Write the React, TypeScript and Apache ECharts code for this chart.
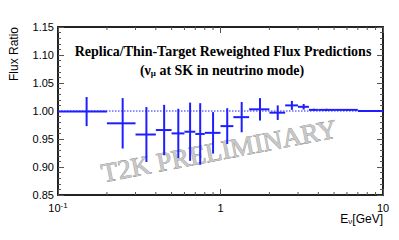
import React, { useEffect, useRef } from "react";
import * as echarts from "echarts";

// Bins (GeV) and values
const binLow = [0.1, 0.2, 0.3, 0.4, 0.5, 0.6, 0.7, 0.8, 1.0, 1.2, 1.5, 2.0, 2.5, 3.0, 3.5, 4.0, 5.0, 7.0];
const binHigh = [0.2, 0.3, 0.4, 0.5, 0.6, 0.7, 0.8, 1.0, 1.2, 1.5, 2.0, 2.5, 3.0, 3.5, 4.0, 5.0, 7.0, 10.0];
const ratio = [0.999, 0.978, 0.958, 0.966, 0.960, 0.963, 0.959, 0.961, 0.973, 0.989, 1.003, 0.997, 1.010, 1.0075, 1.002, 1.002, 1.002, 1.000];
const ratioErr = [0.026, 0.045, 0.049, 0.045, 0.044, 0.052, 0.055, 0.037, 0.032, 0.027, 0.020, 0.013, 0.008, 0.005, 0.002, 0.002, 0.001, 0.0];

const xMinorTicks = [0.2, 0.3, 0.4, 0.5, 0.6, 0.7, 0.8, 0.9, 2, 3, 4, 5, 6, 7, 8, 9];
const xMajorValues = [0.1, 1, 10];
const xMajorLabels = ["{n|10}{s|-1}", "{n|1}", "{n|10}"];
const yMin = 0.85;
const yMax = 1.15;
const yStep = 0.05;
const referenceLine = 1.0;

const titleLine1 = "Replica/Thin-Target Reweighted Flux Predictions";
const yTitle = "Flux Ratio";
const watermark = "T2K PRELIMINARY";

const BLUE = "#1e1eff";
const SANS = "Liberation Sans, Arial, sans-serif";
const SERIF = "Liberation Serif, Times New Roman, serif";

export default function App() {
  const ref = useRef<HTMLDivElement>(null);
  useEffect(() => {
    if (!ref.current) return;
    const chart = echarts.init(ref.current, null, { renderer: "svg" });
    const barData = binLow.map((lo, i) => [lo, binHigh[i], ratio[i], ratioErr[i]]);
    const axisLine = { show: true, onZero: false, lineStyle: { color: "#222", width: 2 } };
    const tickStyle = { color: "#555", width: 1 };
    chart.setOption({
      animation: false,
      grid: { left: 58, right: 16, top: 27, bottom: 45 },
      xAxis: [
        {
          type: "log",
          logBase: 10,
          min: 0.1,
          max: 10,
          axisLine,
          splitLine: { show: false },
          axisTick: { show: true, inside: true, length: 6, lineStyle: tickStyle },
          axisLabel: {
            margin: 6,
            color: "#000",
            fontFamily: SANS,
            formatter: (v: number) => {
              const idx = xMajorValues.findIndex((m) => Math.abs(m - v) < 1e-9);
              return idx >= 0 ? xMajorLabels[idx] : "";
            },
            rich: {
              n: { fontSize: 11, fontFamily: SANS, color: "#000", lineHeight: 14 },
              s: { fontSize: 8, fontFamily: SANS, color: "#000", verticalAlign: "top", lineHeight: 14, padding: [0, 0, 6, 0] },
            },
          },
        },
        {
          type: "log",
          logBase: 10,
          min: 0.1,
          max: 10,
          position: "top",
          axisLine,
          splitLine: { show: false },
          axisTick: { show: true, inside: true, length: 6, lineStyle: tickStyle },
          axisLabel: { show: false },
        },
      ],
      yAxis: [
        {
          type: "value",
          min: yMin,
          max: yMax,
          interval: yStep,
          axisLine,
          splitLine: { show: false },
          axisTick: { show: true, inside: true, length: 6, lineStyle: tickStyle },
          minorTick: { show: true, splitNumber: 5, length: 3, lineStyle: tickStyle },
          axisLabel: {
            margin: 4,
            fontSize: 11,
            color: "#000",
            fontFamily: SANS,
            formatter: (v: number) => v.toFixed(2),
          },
        },
        {
          type: "value",
          min: yMin,
          max: yMax,
          interval: yStep,
          position: "right",
          axisLine,
          splitLine: { show: false },
          axisTick: { show: true, inside: true, length: 6, lineStyle: tickStyle },
          minorTick: { show: true, splitNumber: 5, length: 3, lineStyle: tickStyle },
          axisLabel: { show: false },
        },
      ],
      series: [
        {
          type: "line",
          data: [
            [0.1, referenceLine],
            [10, referenceLine],
          ],
          symbol: "none",
          lineStyle: { color: BLUE, width: 1, type: [1.5, 1.5] },
          z: 1,
          silent: true,
        },
        {
          type: "custom",
          data: xMinorTicks.map((v) => [v, yMin]),
          encode: { x: 0, y: 1 },
          renderItem: (params: any, api: any) => {
            const v = api.value(0);
            const b = api.coord([v, yMin]);
            const t = api.coord([v, yMax]);
            const st = { stroke: "#555", lineWidth: 1 };
            return {
              type: "group",
              children: [
                { type: "line", shape: { x1: b[0], y1: b[1], x2: b[0], y2: b[1] - 3 }, style: st },
                { type: "line", shape: { x1: t[0], y1: t[1], x2: t[0], y2: t[1] + 3 }, style: st },
              ],
            };
          },
          silent: true,
          z: 1,
        },
        {
          type: "custom",
          data: barData,
          encode: { x: [0, 1], y: 2 },
          renderItem: (params: any, api: any) => {
            const lo = api.value(0);
            const hi = api.value(1);
            const v = api.value(2);
            const e = api.value(3);
            const c = (lo + hi) / 2;
            const pL = api.coord([lo, v]);
            const pR = api.coord([hi, v]);
            const pT = api.coord([c, v + e]);
            const pB = api.coord([c, v - e]);
            const st = { stroke: BLUE, lineWidth: 2 };
            const children: any[] = [
              { type: "line", shape: { x1: pL[0], y1: pL[1], x2: pR[0], y2: pR[1] }, style: st },
            ];
            if (e > 0) {
              children.push({ type: "line", shape: { x1: pT[0], y1: pT[1], x2: pB[0], y2: pB[1] }, style: st });
            }
            return { type: "group", children };
          },
          z: 3,
        },
      ],
      graphic: [
        {
          type: "text",
          x: 219,
          y: 151,
          rotation: 0.19,
          z: 0,
          silent: true,
          style: {
            text: watermark,
            fill: "#c8c8c8",
            stroke: "#7a7a7a",
            lineWidth: 0.6,
            font: "27px " + SERIF,
            textAlign: "center",
            textVerticalAlign: "middle",
          },
        },
        {
          type: "text",
          x: 223,
          y: 51,
          z: 10,
          style: {
            text: titleLine1,
            fill: "#000",
            font: "bold 14px " + SERIF,
            textAlign: "center",
            textVerticalAlign: "middle",
          },
        },
        {
          type: "text",
          x: 222,
          y: 70,
          z: 10,
          style: {
            text: "{a|(ν}{b|μ}{a| at SK in neutrino mode)}",
            textAlign: "center",
            textVerticalAlign: "middle",
            rich: {
              a: { fontSize: 14, fontWeight: "bold", fontFamily: SERIF, fill: "#000", lineHeight: 17 },
              b: { fontSize: 9, fontWeight: "bold", fontFamily: SERIF, fill: "#000", lineHeight: 17, padding: [6, 0, 0, 0] },
            },
          },
        },
        {
          type: "text",
          x: 14,
          y: 27,
          rotation: Math.PI / 2,
          style: {
            text: yTitle,
            fill: "#000",
            font: "12px " + SANS,
            textAlign: "right",
            textVerticalAlign: "middle",
          },
        },
        {
          type: "text",
          x: 383,
          y: 219,
          style: {
            text: "{a|E}{b|ν}{a|[GeV]}",
            textAlign: "right",
            textVerticalAlign: "middle",
            rich: {
              a: { fontSize: 12, fontFamily: SANS, fill: "#000", lineHeight: 15 },
              b: { fontSize: 8, fontFamily: SANS, fill: "#000", lineHeight: 15, padding: [5, 0, 0, 0] },
            },
          },
        },
      ],
    });
    return () => chart.dispose();
  }, []);
  return <div ref={ref} style={{ position: "fixed", left: 0, top: 0, width: 399, height: 240, background: "#fff" }} />;
}
